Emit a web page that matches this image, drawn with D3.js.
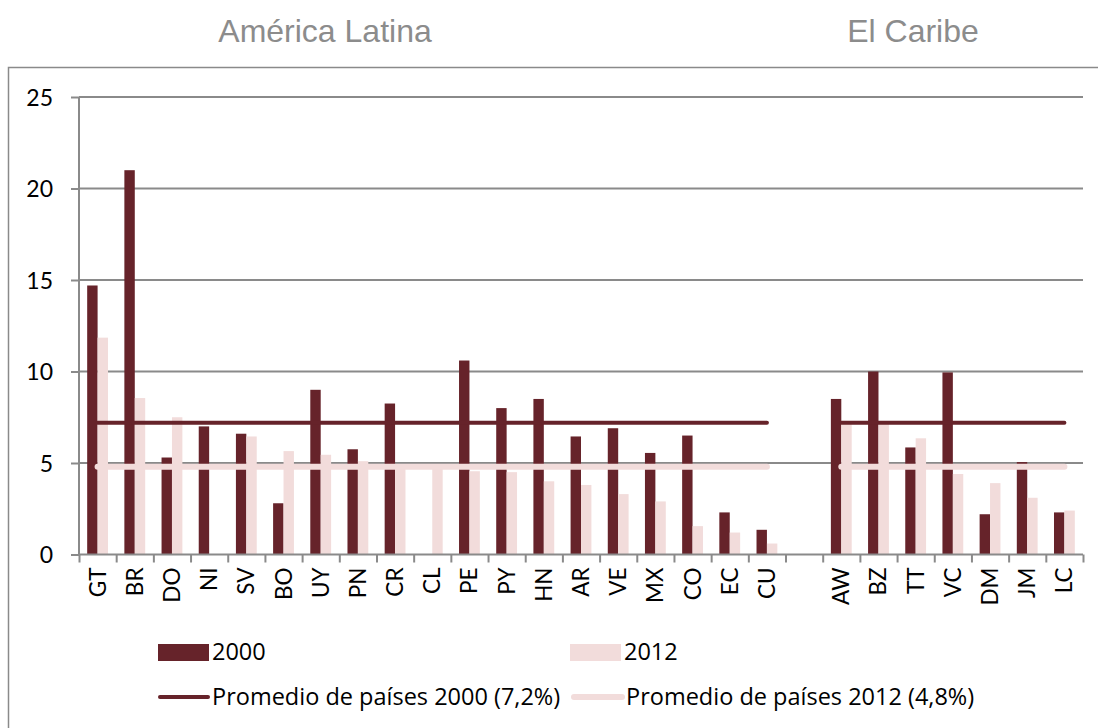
<!DOCTYPE html>
<html>
<head>
<meta charset="utf-8">
<script src="https://cdn.jsdelivr.net/npm/d3@7"></script>
<style>
  body { margin: 0; background: #fff; }
  svg { display: block; font-family: Lato, "Open Sans", sans-serif; }
</style>
</head>
<body>
<div id="chart"></div>
<script>
// países por región ("gap" = hueco entre América Latina y el Caribe)
const latam = ["GT","BR","DO","NI","SV","BO","UY","PN","CR","CL","PE","PY","HN","AR","VE","MX","CO","EC","CU"];
const caribe = ["AW","BZ","TT","VC","DM","JM","LC"];
const v2000 = [14.7, 21.0, 5.3, 7.0, 6.6, 2.8, 9.0, 5.75, 8.25, null, 10.6, 8.0, 8.5, 6.45, 6.9, 5.55, 6.5, 2.3, 1.35,
               8.5, 10.0, 5.85, 9.95, 2.2, 5.05, 2.3];
const v2012 = [11.85, 8.55, 7.5, null, 6.45, 5.65, 5.45, 5.1, 4.8, 4.7, 4.55, 4.5, 4.0, 3.8, 3.3, 2.9, 1.55, 1.2, 0.6,
               7.25, 7.15, 6.35, 4.4, 3.9, 3.1, 2.4];
const avg2000 = 7.2;
const avg2012 = 4.8;
const yTicks = [0, 5, 10, 15, 20, 25];
const legendLabels = ["2000", "2012", "Promedio de países 2000 (7,2%)", "Promedio de países 2012 (4,8%)"];

const dark = "#66232a";
const light = "#f2dcdb";
const grid = "#8a8a8a";

const width = 1098, height = 728;
const margin = {left: 79, right: 15, top: 97, bottom: 173.5};

const slots = latam.concat(["gap"], caribe);
const rows = latam.concat(caribe).map((c, i) => ({c: c, a: v2000[i], b: v2012[i]}));

const svg = d3.select("#chart").append("svg")
    .attr("width", width)
    .attr("height", height);

// marco exterior (cortado a la derecha y abajo)
svg.append("path")
    .attr("d", "M8.5," + (height + 2) + "V67.5H" + (width + 2))
    .attr("fill", "none")
    .attr("stroke", grid)
    .attr("stroke-width", 1.5);

const x = d3.scaleBand()
    .domain(slots)
    .range([margin.left, width - margin.right]);

const xi = d3.scaleLinear()
    .domain([0, slots.length])
    .range([margin.left, width - margin.right]);

const xs = d3.scaleBand()
    .domain(["a", "b"])
    .range([x.bandwidth() * 0.22, x.bandwidth() * 0.78]);

const y = d3.scaleLinear()
    .domain([0, 25])
    .range([height - margin.bottom, margin.top]);

// títulos de región
svg.append("g")
    .selectAll("text")
    .data([["América Latina", 325], ["El Caribe", 913]])
    .join("text")
    .attr("x", d => d[1])
    .attr("y", 42)
    .attr("text-anchor", "middle")
    .attr("fill", "#8c8c8c")
    .style("font-family", "'Liberation Sans', Arial, sans-serif")
    .style("font-size", "32px")
    .text(d => d[0]);

// rejilla
svg.append("g")
    .selectAll("line")
    .data(yTicks.slice(1))
    .join("line")
    .attr("x1", margin.left)
    .attr("x2", width - margin.right)
    .attr("y1", d => y(d))
    .attr("y2", d => y(d))
    .attr("stroke", grid)
    .attr("stroke-width", 2);

// eje y
const yAxis = svg.append("g")
    .attr("transform", `translate(${margin.left},0)`)
    .call(d3.axisLeft(y).tickValues(yTicks).tickSize(8).tickPadding(18));
yAxis.selectAll("path, line").attr("stroke", grid).attr("stroke-width", 2);
yAxis.select(".domain").attr("d", `M0,${y(0)}V${y(25)}`);
yAxis.selectAll("text")
    .attr("fill", "#000")
    .style("font-size", "23px")
    .style("font-family", "Lato, 'Open Sans', sans-serif")
    .attr("dy", "0.36em");

// barras
const groups = svg.append("g")
    .selectAll("g")
    .data(rows)
    .join("g")
    .attr("transform", d => `translate(${x(d.c)},0)`);

groups.filter(d => d.a != null).append("rect")
    .attr("x", xs("a"))
    .attr("width", xs.bandwidth())
    .attr("y", d => y(d.a))
    .attr("height", d => y(0) - y(d.a))
    .attr("fill", dark);

groups.filter(d => d.b != null).append("rect")
    .attr("x", xs("b"))
    .attr("width", xs.bandwidth())
    .attr("y", d => y(d.b))
    .attr("height", d => y(0) - y(d.b))
    .attr("fill", light);

// eje x
const xAxis = svg.append("g")
    .attr("transform", `translate(0,${y(0)})`)
    .call(d3.axisBottom(xi).tickValues(d3.range(slots.length + 1)).tickSize(8).tickFormat(""));
xAxis.selectAll("path, line").attr("stroke", grid).attr("stroke-width", 2);
xAxis.select(".domain").attr("d", `M${margin.left},0H${width - margin.right}`);

svg.append("g")
    .selectAll("text")
    .data(slots.filter(s => s !== "gap"))
    .join("text")
    .attr("transform", d => `translate(${x(d) + x.bandwidth() / 2 + 8},${y(0) + 13}) rotate(-90)`)
    .attr("text-anchor", "end")
    .attr("fill", "#000")
    .style("font-size", "22.5px")
    .text(d => d);

// promedios
const avgLines = [];
[latam, caribe].forEach(g => {
    const x1 = x(g[0]) + x.bandwidth() / 2;
    const x2 = x(g[g.length - 1]) + x.bandwidth() / 2;
    avgLines.push({x1: x1, x2: x2, v: avg2012, c: light, w: 6});
    avgLines.push({x1: x1, x2: x2, v: avg2000, c: dark, w: 4});
});
svg.append("g")
    .selectAll("line")
    .data(avgLines)
    .join("line")
    .attr("x1", d => d.x1)
    .attr("x2", d => d.x2)
    .attr("y1", d => y(d.v))
    .attr("y2", d => y(d.v))
    .attr("stroke", d => d.c)
    .attr("stroke-width", d => d.w)
    .attr("stroke-linecap", "round");

// leyenda
const leg = svg.append("g").style("font-size", "23.5px").style("font-family", "'Open Sans', Lato, sans-serif");
const legPos = [[158, 652], [570, 652], [158, 697], [570, 697]];
legendLabels.forEach((t, i) => {
    const p = legPos[i];
    const c = i % 2 === 0 ? dark : light;
    if (i < 2) {
        leg.append("rect").attr("x", p[0]).attr("y", p[1] - 8).attr("width", 51).attr("height", 17).attr("fill", c);
        leg.append("text").attr("x", p[0] + 54).attr("y", p[1]).attr("dy", "0.35em").text(t);
    } else {
        const lx = i === 2 ? p[0] : 572;
        leg.append("line").attr("x1", lx + 2).attr("x2", lx + 50).attr("y1", p[1]).attr("y2", p[1])
            .attr("stroke", c).attr("stroke-width", i === 2 ? 4 : 6).attr("stroke-linecap", "round");
        leg.append("text").attr("x", lx + 54).attr("y", p[1]).attr("dy", "0.35em").text(t);
    }
});
</script>
</body>
</html>
